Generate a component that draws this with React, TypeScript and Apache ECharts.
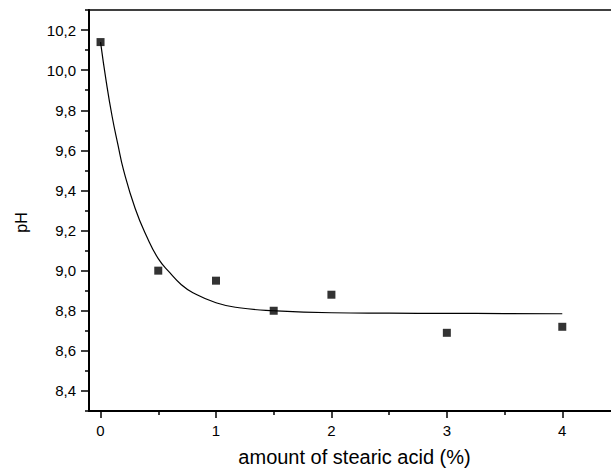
import React, { useEffect, useRef } from "react";
import * as echarts from "echarts";

const xValues = [0, 0.5, 1, 1.5, 2, 3, 4];
const phValues = [10.14, 9.0, 8.95, 8.8, 8.88, 8.69, 8.72];

const fitX = [0, 0.05, 0.1, 0.15, 0.2, 0.3, 0.4, 0.5, 0.6, 0.7, 0.8, 1.0, 1.2, 1.5, 2, 2.5, 3, 3.5, 4];
const fitY = [10.14, 9.94, 9.77, 9.63, 9.5, 9.31, 9.17, 9.06, 8.99, 8.93, 8.89, 8.84, 8.815, 8.8, 8.79, 8.788, 8.787, 8.786, 8.785];

const xMajorTicks = [0, 1, 2, 3, 4];
const xMinorTicks = [0.5, 1.5, 2.5, 3.5];
const yMajorTicks = [8.4, 8.6, 8.8, 9.0, 9.2, 9.4, 9.6, 9.8, 10.0, 10.2];
const yMinorTicks = [8.3, 8.5, 8.7, 8.9, 9.1, 9.3, 9.5, 9.7, 9.9, 10.1, 10.3];

const FONT = "Liberation Sans, Arial, sans-serif";

export default function App() {
  const ref = useRef<HTMLDivElement>(null);
  useEffect(() => {
    if (!ref.current) return;
    const chart = echarts.init(ref.current, null, { renderer: "svg" });
    const gridBox = { left: 89, top: 10, width: 531, bottom: 60, outerBoundsMode: "none", containLabel: false, show: false };
    const xBase = { type: "value", min: -0.1, max: 4.5, splitLine: { show: false } };
    const yBase = { type: "value", min: 8.3, max: 10.3, splitLine: { show: false }, position: "left" };
    chart.setOption({
      animation: false,
      backgroundColor: "#fff",
      grid: [{ ...gridBox }, { ...gridBox }],
      xAxis: [
        {
          ...xBase,
          gridIndex: 0,
          position: "bottom",
          name: "amount of stearic acid (%)",
          nameLocation: "middle",
          nameGap: 36,
          nameTextStyle: { fontFamily: FONT, fontSize: 20, color: "#000" },
          axisLine: { show: true, onZero: false, lineStyle: { color: "#000", width: 2 } },
          axisTick: { show: true, customValues: xMajorTicks, length: 7, lineStyle: { color: "#000", width: 1.5 } },
          axisLabel: {
            customValues: xMajorTicks,
            margin: 12,
            fontFamily: FONT,
            fontSize: 15,
            color: "#000",
          },
        },
        {
          ...xBase,
          gridIndex: 0,
          position: "top",
          axisLine: { show: true, onZero: false, lineStyle: { color: "#000", width: 1.5 } },
          axisTick: { show: false },
          axisLabel: { show: false },
        },
        {
          ...xBase,
          gridIndex: 1,
          position: "bottom",
          axisLine: { show: false, onZero: false },
          axisTick: { show: true, customValues: xMinorTicks, length: 4, lineStyle: { color: "#000", width: 1.5 } },
          axisLabel: { show: false },
        },
      ],
      yAxis: [
        {
          ...yBase,
          gridIndex: 0,
          name: "pH",
          nameLocation: "middle",
          nameGap: 60,
          nameTextStyle: { fontFamily: FONT, fontSize: 16, color: "#000", padding: [0, 24, 0, 0] },
          axisLine: { show: true, onZero: false, lineStyle: { color: "#000", width: 2 } },
          axisTick: { show: true, customValues: yMajorTicks, length: 8, lineStyle: { color: "#000", width: 1.5 } },
          axisLabel: {
            customValues: yMajorTicks,
            margin: 13,
            fontFamily: FONT,
            fontSize: 15,
            color: "#000",
            formatter: (v: number) => v.toFixed(1).replace(".", ","),
          },
        },
        {
          ...yBase,
          gridIndex: 1,
          axisLine: { show: false, onZero: false },
          axisTick: { show: true, customValues: yMinorTicks, length: 4, lineStyle: { color: "#000", width: 1.5 } },
          axisLabel: { show: false },
        },
      ],
      series: [
        {
          type: "line",
          xAxisIndex: 0,
          yAxisIndex: 0,
          data: fitX.map((x, i) => [x, fitY[i]]),
          smooth: true,
          showSymbol: false,
          symbol: "none",
          lineStyle: { color: "#000", width: 1.2 },
          z: 2,
        },
        {
          type: "scatter",
          xAxisIndex: 0,
          yAxisIndex: 0,
          data: xValues.map((x, i) => [x, phValues[i]]),
          symbol: "rect",
          symbolSize: 8,
          itemStyle: { color: "#000" },
          z: 3,
        },
      ],
    });
    return () => chart.dispose();
  }, []);
  return (
    <div
      ref={ref}
      style={{ position: "absolute", left: 0, top: 0, width: 611, height: 471 }}
    />
  );
}
